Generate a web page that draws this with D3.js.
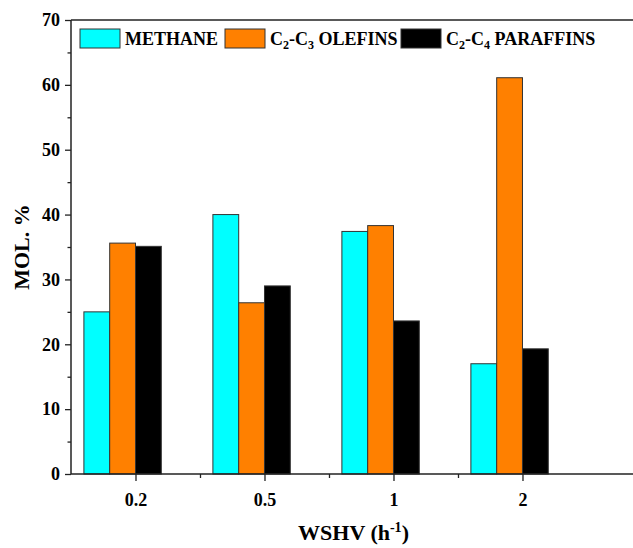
<!DOCTYPE html>
<html>
<head>
<meta charset="utf-8">
<script src="https://cdn.jsdelivr.net/npm/d3@7"></script>
<style>
  body { margin: 0; background: #fff; }
  svg { display: block; font-family: "Liberation Serif", "Times New Roman", serif; font-weight: bold; }
</style>
</head>
<body>
<svg id="chart" width="633" height="548"></svg>
<script>
const categories = ["0.2", "0.5", "1", "2"];
const methane = [25.0, 40.0, 37.4, 17.0];
const olefins = [35.6, 26.4, 38.3, 61.1];
const paraffins = [35.1, 29.0, 23.6, 19.3];
const yTicks = [0, 10, 20, 30, 40, 50, 60, 70];

const seriesList = [
    { key: "methane", values: methane, color: "#00ffff", label: [["METHANE"]] },
    { key: "olefins", values: olefins, color: "#ff8000", label: [["C"], ["2", "sub"], ["-C"], ["3", "sub"], [" OLEFINS"]] },
    { key: "paraffins", values: paraffins, color: "#000000", label: [["C"], ["2", "sub"], ["-C"], ["4", "sub"], [" PARAFFINS"]] }
];

const margin = { top: 20, left: 71, bottom: 74, right: -3 };
const width = 633, height = 548;
const barW = 0.2;

const svg = d3.select("#chart");

const x = d3.scaleLinear().domain([-0.5, 3.88]).range([margin.left, width - margin.right]);
const y = d3.scaleLinear().domain([0, 70]).range([height - margin.bottom, margin.top]);

// bars: orange right edge sits on the category tick
const bars = svg.append("g");
seriesList.forEach((s, k) => {
    bars.selectAll(`rect.${s.key}`)
        .data(s.values)
        .join("rect")
        .attr("class", s.key)
        .attr("x", (d, i) => x(i + (k - 2) * barW))
        .attr("width", (d, i) => x(i + (k - 1) * barW) - x(i + (k - 2) * barW))
        .attr("y", d => y(d))
        .attr("height", d => y(0) - y(d))
        .attr("fill", s.color)
        .attr("stroke", "#333")
        .attr("stroke-width", 1);
});

const axisColor = "#222";

// y axis, major + minor
const yAxis = svg.append("g").attr("transform", `translate(${margin.left},0)`);
yAxis.call(d3.axisLeft(y).tickValues(d3.range(5, 70, 10)).tickSize(3.5).tickFormat(""));
yAxis.call(g => g.select(".domain").remove());
const yMajor = svg.append("g").attr("transform", `translate(${margin.left},0)`)
    .call(d3.axisLeft(y).tickValues(yTicks).tickSize(6).tickPadding(5));
yMajor.selectAll("text").attr("font-size", 18).attr("font-family", "Liberation Serif").attr("font-weight", "bold").attr("fill", "#000");
svg.selectAll(".tick line").attr("stroke", axisColor).attr("stroke-width", 1.3);
yMajor.select(".domain").remove();

// x axis
const xMinor = svg.append("g").attr("transform", `translate(0,${y(0)})`)
    .call(d3.axisBottom(x).tickValues([0.5, 1.5, 2.5]).tickSize(4).tickFormat(""));
xMinor.select(".domain").remove();
const xAxis = svg.append("g").attr("transform", `translate(0,${y(0)})`)
    .call(d3.axisBottom(x).tickValues(d3.range(categories.length)).tickSize(7).tickPadding(12).tickFormat(i => categories[i]));
xAxis.select(".domain").remove();
xAxis.selectAll("text").attr("font-size", 18).attr("font-family", "Liberation Serif").attr("font-weight", "bold").attr("fill", "#000");
svg.selectAll(".tick line").attr("stroke", axisColor).attr("stroke-width", 1.3);

// frame lines
svg.append("line").attr("x1", margin.left).attr("x2", width).attr("y1", y(0)).attr("y2", y(0))
    .attr("stroke", axisColor).attr("stroke-width", 1.5);
svg.append("line").attr("x1", margin.left).attr("x2", width).attr("y1", y(70)).attr("y2", y(70))
    .attr("stroke", axisColor).attr("stroke-width", 1.5);
svg.append("line").attr("x1", margin.left).attr("x2", margin.left).attr("y1", y(70)).attr("y2", y(0))
    .attr("stroke", axisColor).attr("stroke-width", 1.5);

// axis titles
svg.append("text")
    .attr("transform", `translate(29,${(y(0) + y(70)) / 2}) rotate(-90)`)
    .attr("text-anchor", "middle")
    .attr("font-size", 22)
    .text("MOL. %");

const xt = svg.append("text")
    .attr("x", (margin.left + width - margin.right) / 2)
    .attr("y", 540)
    .attr("text-anchor", "middle")
    .attr("font-size", 22);
xt.append("tspan").text("WSHV (h");
xt.append("tspan").attr("font-size", 14).attr("dy", -8).text("-1");
xt.append("tspan").attr("dy", 8).text(")");

// legend
const legendPos = [80, 225, 401];
const legend = svg.append("g");
seriesList.forEach((s, k) => {
    const g = legend.append("g").attr("transform", `translate(${legendPos[k]},29)`);
    g.append("rect").attr("width", 40).attr("height", 19)
        .attr("fill", s.color).attr("stroke", "#333").attr("stroke-width", 1);
    const t = g.append("text").attr("x", 45).attr("y", 16).attr("font-size", 18);
    let shifted = false;
    s.label.forEach(([str, kind]) => {
        const sp = t.append("tspan").text(str);
        if (kind === "sub") {
            sp.attr("font-size", 12).attr("dy", 4);
            shifted = true;
        } else if (shifted) {
            sp.attr("dy", -4);
            shifted = false;
        }
    });
});
</script>
</body>
</html>
